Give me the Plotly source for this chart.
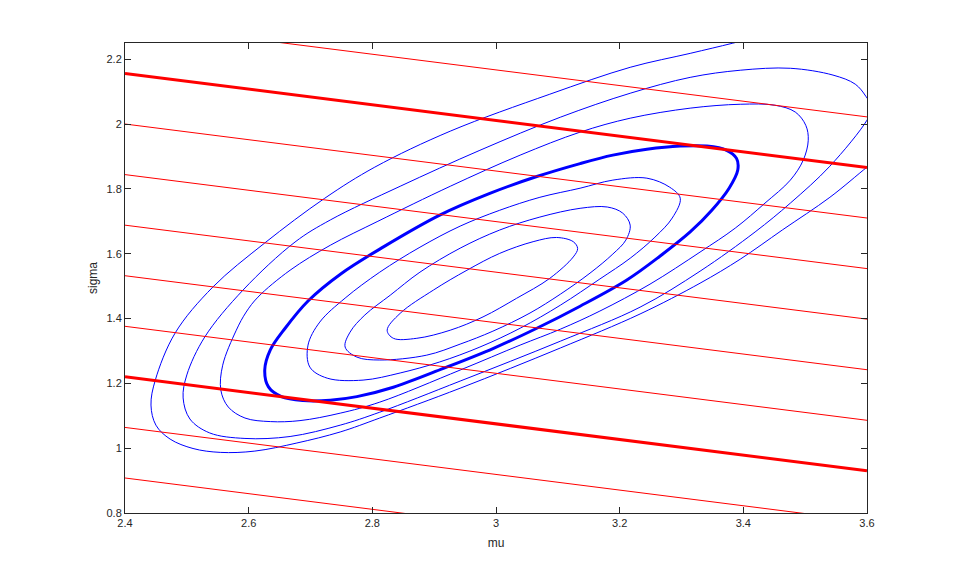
import plotly.graph_objects as go

# ---------------- data ----------------
x_ticks = [2.4, 2.6, 2.8, 3.0, 3.2, 3.4, 3.6]
x_tick_labels = ["2.4", "2.6", "2.8", "3", "3.2", "3.4", "3.6"]
y_ticks = [0.8, 1.0, 1.2, 1.4, 1.6, 1.8, 2.0, 2.2]
y_tick_labels = ["0.8", "1", "1.2", "1.4", "1.6", "1.8", "2", "2.2"]

# red straight contour lines: sigma value at mu = 2.4 and at mu = 3.6
red_mu_ends = [2.4, 3.6]
red_sigma_left = [2.312, 2.156, 2.000, 1.844, 1.688, 1.532, 1.376, 1.220, 1.064, 0.908]
red_sigma_right = [2.022, 1.866, 1.710, 1.554, 1.398, 1.242, 1.086, 0.930, 0.774, 0.618]

# blue likelihood contours, innermost (c1) to outermost (c7); c4 is the bold one
c1_mu = [3.006, 3.060, 3.098, 3.125, 3.132, 3.125, 3.087, 3.033, 2.979, 2.926, 2.872, 2.834, 2.824, 2.845, 2.899, 2.953, 3.006]
c1_sigma = [1.601, 1.637, 1.650, 1.637, 1.616, 1.590, 1.524, 1.462, 1.405, 1.364, 1.339, 1.339, 1.364, 1.416, 1.488, 1.549, 1.601]

c2_mu = [3.006, 2.942, 2.877, 2.829, 2.788, 2.764, 2.756, 2.775, 2.812, 2.888, 2.942, 2.995, 3.055, 3.104, 3.152, 3.189, 3.210, 3.217, 3.205, 3.180, 3.136, 3.071, 3.006]
c2_sigma = [1.673, 1.617, 1.543, 1.472, 1.411, 1.358, 1.312, 1.281, 1.272, 1.287, 1.321, 1.361, 1.417, 1.475, 1.540, 1.599, 1.642, 1.688, 1.725, 1.744, 1.740, 1.713, 1.673]

c3_mu = [3.006, 2.942, 2.877, 2.812, 2.756, 2.715, 2.696, 2.699, 2.727, 2.785, 2.845, 2.909, 2.974, 3.039, 3.104, 3.168, 3.217, 3.257, 3.285, 3.298, 3.281, 3.244, 3.189, 3.136, 3.071, 3.006]
c3_sigma = [1.734, 1.685, 1.620, 1.543, 1.463, 1.389, 1.318, 1.250, 1.216, 1.210, 1.232, 1.266, 1.312, 1.370, 1.441, 1.522, 1.586, 1.651, 1.710, 1.771, 1.805, 1.833, 1.827, 1.802, 1.774, 1.734]

c4_mu = [3.066, 2.990, 2.909, 2.818, 2.750, 2.696, 2.659, 2.635, 2.626, 2.632, 2.653, 2.688, 2.732, 2.775, 2.834, 2.915, 2.996, 3.066, 3.136, 3.211, 3.265, 3.314, 3.349, 3.377, 3.391, 3.389, 3.373, 3.341, 3.298, 3.244, 3.189, 3.136, 3.066]
c4_sigma = [1.838, 1.786, 1.719, 1.621, 1.539, 1.454, 1.370, 1.303, 1.241, 1.189, 1.159, 1.147, 1.148, 1.159, 1.188, 1.246, 1.308, 1.370, 1.438, 1.518, 1.592, 1.667, 1.734, 1.802, 1.858, 1.894, 1.919, 1.932, 1.932, 1.922, 1.904, 1.878, 1.838]

c5_mu = [3.039, 2.926, 2.809, 2.732, 2.667, 2.615, 2.596, 2.580, 2.558, 2.555, 2.567, 2.594, 2.635, 2.683, 2.748, 2.812, 2.942, 3.039, 3.104, 3.168, 3.249, 3.330, 3.387, 3.435, 3.476, 3.497, 3.505, 3.501, 3.484, 3.451, 3.395, 3.314, 3.217, 3.136, 3.039]
c5_sigma = [1.904, 1.808, 1.700, 1.626, 1.549, 1.466, 1.420, 1.364, 1.256, 1.179, 1.127, 1.093, 1.082, 1.085, 1.108, 1.142, 1.241, 1.318, 1.367, 1.423, 1.506, 1.605, 1.679, 1.756, 1.827, 1.889, 1.950, 1.996, 2.037, 2.058, 2.061, 2.049, 2.018, 1.975, 1.904]

c6_mu = [3.608, 3.598, 3.581, 3.545, 3.476, 3.395, 3.314, 3.217, 3.104, 2.974, 2.845, 2.732, 2.675, 2.591, 2.529, 2.500, 2.494, 2.505, 2.537, 2.594, 2.667, 2.748, 2.812, 2.942, 3.104, 3.233, 3.330, 3.419, 3.476, 3.540, 3.600, 3.608]
c6_sigma = [2.049, 2.086, 2.123, 2.151, 2.172, 2.166, 2.144, 2.095, 2.021, 1.919, 1.808, 1.704, 1.636, 1.488, 1.343, 1.226, 1.155, 1.090, 1.047, 1.030, 1.036, 1.071, 1.111, 1.207, 1.330, 1.435, 1.546, 1.667, 1.756, 1.870, 2.012, 2.049]

c7_mu = [3.427, 3.382, 3.314, 3.217, 3.087, 2.926, 2.804, 2.723, 2.626, 2.542, 2.481, 2.449, 2.442, 2.450, 2.473, 2.510, 2.554, 2.610, 2.678, 2.748, 2.812, 2.942, 3.104, 3.233, 3.330, 3.395, 3.463, 3.540, 3.600, 3.621]
c7_sigma = [2.271, 2.249, 2.218, 2.175, 2.092, 1.978, 1.867, 1.771, 1.633, 1.497, 1.355, 1.210, 1.133, 1.071, 1.028, 0.999, 0.987, 0.991, 1.016, 1.050, 1.093, 1.185, 1.309, 1.414, 1.509, 1.583, 1.673, 1.774, 1.867, 1.898]

# ---------------- styling ----------------
BLUE = "#0000ff"
RED = "#ff0000"
AXIS = "#262626"
THIN = 1
BOLD = 3
BOLD_BLUE_INDEX = 3
BOLD_RED_INDICES = (1, 7)

fig = go.Figure()

contours = [(c1_mu, c1_sigma), (c2_mu, c2_sigma), (c3_mu, c3_sigma), (c4_mu, c4_sigma),
            (c5_mu, c5_sigma), (c6_mu, c6_sigma), (c7_mu, c7_sigma)]
for i, (m, s) in enumerate(contours):
    fig.add_trace(go.Scatter(
        x=m, y=s, mode="lines",
        line=dict(color=BLUE, width=BOLD if i == BOLD_BLUE_INDEX else THIN,
                  shape="spline", smoothing=1.0),
        hoverinfo="skip", showlegend=False))

for k, (a, b) in enumerate(zip(red_sigma_left, red_sigma_right)):
    fig.add_trace(go.Scatter(
        x=red_mu_ends, y=[a, b], mode="lines",
        line=dict(color=RED, width=BOLD if k in BOLD_RED_INDICES else THIN),
        hoverinfo="skip", showlegend=False))

# the page body adds an 8px margin, so the figure is 8px smaller and the
# left/top margins are 8px smaller to land the axes where the reference has them
fig.update_layout(
    width=951, height=569,
    margin=dict(l=117, r=92, t=35, b=64),
    paper_bgcolor="white", plot_bgcolor="white",
    showlegend=False,
    font=dict(family="Liberation Sans, Arial, sans-serif", size=11, color=AXIS),
)
axis_common = dict(
    showgrid=False, zeroline=False,
    showline=True, linecolor=AXIS, linewidth=1, mirror="ticks",
    ticks="inside", ticklen=6, tickcolor=AXIS, tickwidth=1,
    tickfont=dict(size=11, color=AXIS),
)
fig.update_xaxes(range=[2.4, 3.6], tickvals=x_ticks, ticktext=x_tick_labels,
                 title=dict(text="mu", font=dict(size=12, color=AXIS), standoff=10),
                 **axis_common)
fig.update_yaxes(range=[0.8, 2.25], tickvals=y_ticks, ticktext=y_tick_labels,
                 title=dict(text="sigma", font=dict(size=12, color=AXIS), standoff=6),
                 **axis_common)

fig.write_html("out.html", config={"displayModeBar": False})
